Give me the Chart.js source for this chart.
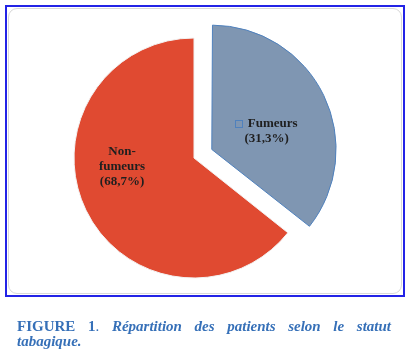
<!DOCTYPE html>
<html>
<head>
<meta charset="utf-8">
<script src="https://cdn.jsdelivr.net/npm/chart.js@4.4.1/dist/chart.umd.min.js"></script>
<style>
  html, body { margin: 0; padding: 0; background: #fff; width: 412px; height: 364px; overflow: hidden; }
  #frame { position: absolute; left: 5px; top: 5px; width: 396px; height: 288px; border: 2px solid #2323e6; }
  #inner { position: absolute; left: 8px; top: 8px; width: 392px; height: 284px; border: 1px solid #d9d9d9; border-radius: 9px; }
  #wrap { position: absolute; left: 0; top: 0; width: 412px; height: 364px; }
  #caption { position: absolute; left: 17px; top: 319px; width: 374px; font-family: "Liberation Serif", serif; font-size: 15px; line-height: 14.5px; color: #3670b8; }
  #caption .l1 { text-align: justify; text-align-last: justify; white-space: nowrap; display: block; }
  #caption .l2 { display: block; }
  #caption b { font-weight: bold; }
  #caption i { font-weight: bold; font-style: italic; }
</style>
</head>
<body>
<div id="frame"></div>
<div id="inner"></div>
<div id="wrap"><canvas id="c" width="412" height="364"></canvas></div>
<div id="caption"><div class="l1"><b>FIGURE 1</b>. <i>Répartition des patients selon le statut</i></div><div class="l2"><i>tabagique.</i></div></div>
<script>
// Slice sizes as drawn in the picture (the printed labels read 31,3% / 68,7%)
const categories = ["Fumeurs", "Non-fumeurs"];
const values = [35.7, 64.3];
const labelLines = [["Fumeurs", "(31,3%)"], ["Non-", "fumeurs", "(68,7%)"]];
const colors = ["#7f96b2", "#e04a31"];
const borderColors = ["#4f81bd", "#f2f2f2"];
const offsets = [79, 0];

const sliceLabels = {
  id: "sliceLabels",
  afterDatasetsDraw(chart) {
    const ctx = chart.ctx;
    const meta = chart.getDatasetMeta(0);
    const rel = [[0.425, -0.133], [-0.6, 0.075]];
    ctx.save();
    ctx.font = "bold 13px 'Liberation Serif', serif";
    ctx.fillStyle = "#1f1f1f";
    ctx.textBaseline = "middle";
    meta.data.forEach((arc, i) => {
      const r = arc.outerRadius;
      const mid = (arc.startAngle + arc.endAngle) / 2;
      const off = (arc.options.offset || 0) / 4;
      const fix2 = 1 - Math.sin(Math.min(Math.PI, arc.circumference || 0));
      const d = off + off * fix2;
      const cx = arc.x + Math.cos(mid) * d + rel[i][0] * r;
      const cy = arc.y + Math.sin(mid) * d + rel[i][1] * r;
      const lines = labelLines[i];
      const lh = 15;
      lines.forEach((t, k) => {
        const y = cy + (k - (lines.length - 1) / 2) * lh;
        ctx.textAlign = "center";
        if (i === 0 && k === 0) {
          const w = ctx.measureText(t).width;
          const tx = cx + 6;
          ctx.fillText(t, tx, y);
          ctx.strokeStyle = "#4f81bd";
          ctx.lineWidth = 1;
          ctx.strokeRect(Math.round(tx - w / 2 - 13) + 0.5, Math.round(y - 4) + 0.5, 7, 7);
        } else {
          ctx.fillText(t, cx, y);
        }
      });
    });
    ctx.restore();
  }
};

new Chart(document.getElementById("c"), {
  type: "pie",
  data: {
    labels: categories,
    datasets: [{
      data: values,
      backgroundColor: colors,
      borderColor: borderColors,
      borderWidth: 1,
      offset: offsets
    }]
  },
  options: {
    responsive: false,
    animation: false,
    radius: 120,
    layout: { padding: { left: 40, right: 64, top: 20, bottom: 68 } },
    plugins: { legend: { display: false }, tooltip: { enabled: false } }
  },
  plugins: [sliceLabels]
});
</script>
</body>
</html>
